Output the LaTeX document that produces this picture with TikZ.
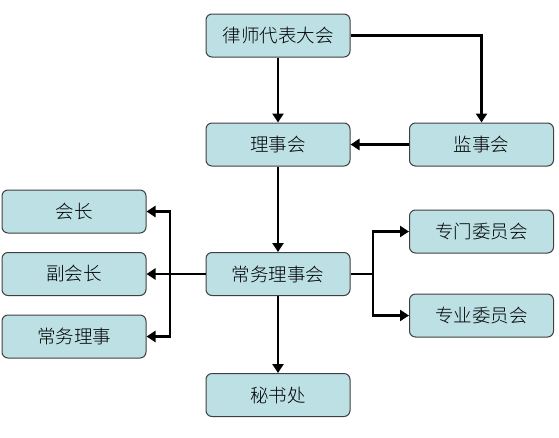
\documentclass[tikz,border=0pt]{standalone}
\usepackage{fontspec}
\newfontfamily\cjk{Noto Sans CJK SC Light}
\usetikzlibrary{arrows.meta}
\definecolor{boxfill}{HTML}{BCE0E4}
\definecolor{boxline}{HTML}{404040}
\begin{document}
\begin{tikzpicture}[x=1pt,y=-1pt,
  box/.style={draw=boxline,line width=1pt,fill=boxfill,rounded corners=6pt,
    minimum width=144pt,minimum height=43pt,inner sep=0pt,font=\cjk\fontsize{18.5}{20}\selectfont},
  conn/.style={line width=2.6pt,-{Triangle[length=9pt,width=11pt]}},
  plain/.style={line width=2.6pt}]
\useasboundingbox (0,0) rectangle (559,437);
\node[box] (lvdb) at (278,35.5) {律师代表大会};
\node[box] (lsh) at (278,144.5) {理事会};
\node[box] (jsh) at (481.5,144.5) {监事会};
\node[box] (cw) at (278,274) {常务理事会};
\node[box] (msc) at (278,395) {秘书处};
\node[box] (hz) at (74,211.5) {会长};
\node[box] (fhz) at (74,274) {副会长};
\node[box] (cwls) at (74,336.5) {常务理事};
\node[box] (zm) at (481.5,231.5) {专门委员会};
\node[box] (zy) at (481.5,315.5) {专业委员会};
\coordinate (lbus) at (170,274);
\coordinate (rbus) at (373,274);
\draw[conn] (lvdb) -- (lsh);
\draw[conn] (lvdb.east) -| (jsh.north);
\draw[conn] (jsh) -- (lsh);
\draw[conn] (lsh) -- (cw);
\draw[conn] (cw) -- (msc);
\draw[conn] (cw) -- (fhz);
\draw[conn] (lbus) |- (hz.east);
\draw[conn] (lbus) |- (cwls.east);
\draw[plain] (cw.east) -- (rbus);
\draw[conn] (rbus) |- (zm.west);
\draw[conn] (rbus) |- (zy.west);
\end{tikzpicture}
\end{document}
